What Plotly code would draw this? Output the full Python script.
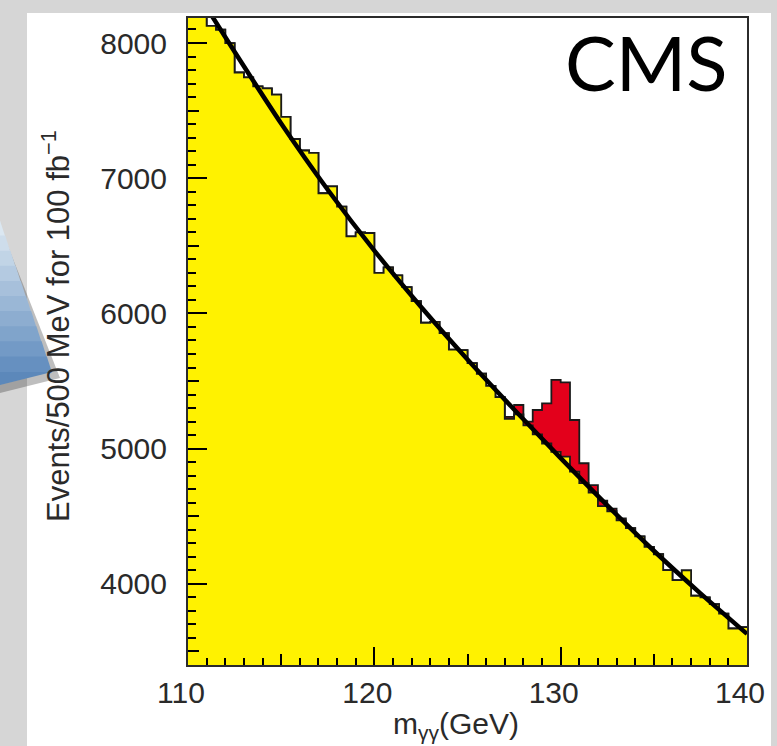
import numpy as np
import plotly.graph_objects as go

# Diphoton invariant-mass spectrum, 500 MeV bins from 110 to 140 GeV
bin_low_edges = [110.0 + 0.5 * i for i in range(60)]

# Expected background per bin (events / 500 MeV for 100 fb^-1)
background = [
    8425, 8306, 8127, 8098, 7999, 7782, 7746, 7680, 7664, 7618,
    7454, 7290, 7205, 7187, 6889, 6940, 6790, 6570, 6600, 6595,
    6300, 6340, 6282, 6194, 6091, 5931, 5938, 5855, 5732, 5729,
    5633, 5554, 5465, 5381, 5220, 5254, 5172, 5105, 5038, 4976,
    4941, 4830, 4745, 4675, 4575, 4537, 4470, 4413, 4351, 4274,
    4219, 4101, 4028, 4100, 3912, 3900, 3850, 3780, 3670, 3680,
]

# Higgs signal contribution stacked on top of the background
signal = [
    0, 0, 0, 0, 0, 0, 0, 0, 0, 0,
    0, 0, 0, 0, 0, 0, 0, 0, 0, 0,
    0, 0, 0, 0, 0, 0, 0, 0, 0, 0,
    0, 0, 0, 0, 15, 69, 28, 181, 297, 532,
    549, 382, 147, 55, 40, 20, 15, 0, 0, 0,
    0, 0, 0, 0, 0, 0, 0, 0, 0, 0,
]

# Smooth background fit
fit_mass = [110.0, 112.5, 115.0, 117.5, 120.0, 122.5, 125.0,
            127.5, 130.0, 132.5, 135.0, 137.5, 140.0]
fit_events = [8480, 7935, 7405, 6915, 6465, 6050, 5660,
              5290, 4930, 4580, 4245, 3930, 3630]

x_ticks = [110, 120, 130, 140]
y_ticks = [4000, 5000, 6000, 7000, 8000]

X_RANGE = [110, 140]
Y_RANGE = [3400, 8185]

W, H = 777, 746
ML, MR, MT, MB = 188, 30, 18, 81
PW, PH = W - ML - MR, H - MT - MB


def px(x):
    return (x - ML) / PW


def py(y):
    return (H - MB - y) / PH


def step_xy(values):
    xs = list(bin_low_edges) + [X_RANGE[1]]
    ys = list(values) + [values[-1]]
    return xs, ys


total = [b + s for b, s in zip(background, signal)]

fig = go.Figure()

tx, ty = step_xy(total)
fig.add_trace(go.Scatter(
    x=tx, y=ty, mode="lines", line=dict(shape="hv", color="#1a1a1a", width=1.8),
    fill="tozeroy", fillcolor="#e3001b", hoverinfo="skip", showlegend=False,
))

bx, by = step_xy(background)
fig.add_trace(go.Scatter(
    x=bx, y=by, mode="lines", line=dict(shape="hv", color="#1a1a1a", width=1.8),
    fill="tozeroy", fillcolor="#fff200", hoverinfo="skip", showlegend=False,
))

fig.add_trace(go.Scatter(
    x=fit_mass, y=fit_events, mode="lines",
    line=dict(color="black", width=4.5, shape="spline", smoothing=0.6),
    hoverinfo="skip", showlegend=False,
))

# carrier trace for the overlay axes holding the half-decade ticks
fig.add_trace(go.Scatter(
    x=[X_RANGE[0]], y=[Y_RANGE[0]], xaxis="x2", yaxis="y2", mode="none",
    hoverinfo="skip", showlegend=False,
))

tick_font = dict(family="Liberation Sans, Arial, sans-serif", size=30, color="#2a2a2a")

fig.update_layout(
    width=W, height=H,
    margin=dict(l=ML, r=MR, t=MT, b=MB),
    paper_bgcolor="#d6d6d6",
    plot_bgcolor="white",
    xaxis=dict(
        range=X_RANGE, tickvals=x_ticks, ticks="inside", ticklen=18, tickwidth=2,
        tickcolor="black", showgrid=False, zeroline=False,
        showline=True, linecolor="#2b2b2b", linewidth=2, mirror=True,
        tickfont=tick_font, ticklabelshift=-7, ticklabelstandoff=0,
        minor=dict(dtick=1, tick0=110, ticks="inside", ticklen=7, tickwidth=1.6,
                   tickcolor="black", showgrid=False),
    ),
    yaxis=dict(
        range=Y_RANGE, tickvals=y_ticks, ticks="inside", ticklen=19, tickwidth=2,
        tickcolor="black", showgrid=False, zeroline=False,
        showline=True, linecolor="#2b2b2b", linewidth=2, mirror=True,
        tickfont=tick_font, ticklabelstandoff=13,
        minor=dict(dtick=100, tick0=0, ticks="inside", ticklen=8, tickwidth=1.6,
                   tickcolor="black", showgrid=False),
    ),
    xaxis2=dict(
        overlaying="x", matches="x", range=X_RANGE, tick0=110, dtick=5,
        ticks="inside", ticklen=11, tickwidth=1.6, tickcolor="black",
        showticklabels=False, showgrid=False, zeroline=False, showline=False,
        anchor="y",
    ),
    yaxis2=dict(
        overlaying="y", matches="y", range=Y_RANGE, tick0=0, dtick=500,
        ticks="inside", ticklen=11, tickwidth=1.6, tickcolor="black",
        showticklabels=False, showgrid=False, zeroline=False, showline=False,
        anchor="x",
    ),
)

shapes = []
# white slide panel behind the plot
shapes.append(dict(
    type="rect", xref="paper", yref="paper",
    x0=px(27), x1=px(771), y0=py(H), y1=py(13),
    fillcolor="white", line=dict(width=0), layer="below",
))


def poly(points):
    return "M " + " L ".join(f"{px(a):.5f},{py(b):.5f}" for a, b in points) + " Z"


# callout wedge on the left edge: soft shadow then a blue gradient in bands
shapes.append(dict(
    type="path", xref="paper", yref="paper",
    path=poly([(0, 226), (60, 378), (0, 393)]),
    fillcolor="rgba(40,40,40,0.30)", line=dict(width=0), layer="above",
))
top_y, bot_y = 221.0, 385.0
edge_top, edge_bot = (0.0, 221.0), (52.0, 372.0)
n_bands = 10
c_top = np.array([226, 236, 244])
c_bot = np.array([96, 140, 190])
for i in range(n_bands):
    y0 = top_y + (edge_bot[1] - top_y) * i / n_bands
    y1 = top_y + (edge_bot[1] - top_y) * (i + 1) / n_bands
    xr0 = edge_top[0] + (edge_bot[0] - edge_top[0]) * (y0 - edge_top[1]) / (edge_bot[1] - edge_top[1])
    xr1 = edge_top[0] + (edge_bot[0] - edge_top[0]) * (y1 - edge_top[1]) / (edge_bot[1] - edge_top[1])
    t = (i + 0.5) / n_bands
    c = (c_top * (1 - t) + c_bot * t).astype(int)
    shapes.append(dict(
        type="path", xref="paper", yref="paper",
        path=poly([(0, y0 - 0.5), (xr0, y0 - 0.5), (xr1, y1 + 0.5), (0, y1 + 0.5)]),
        fillcolor=f"rgb({c[0]},{c[1]},{c[2]})", line=dict(width=0), layer="above",
    ))
shapes.append(dict(
    type="path", xref="paper", yref="paper",
    path=poly([(0, edge_bot[1]), (edge_bot[0], edge_bot[1]), (0, bot_y)]),
    fillcolor="rgb(92,136,186)", line=dict(width=0), layer="above",
))
fig.update_layout(shapes=shapes)

fig.add_annotation(
    text="Events/500 MeV for 100 fb<sup>\u22121</sup>",
    xref="paper", yref="paper", x=px(56), y=py(326),
    xanchor="center", yanchor="middle", textangle=-90, showarrow=False,
    font=dict(family="Liberation Sans, Arial, sans-serif", size=31, color="#2a2a2a"),
)
fig.add_annotation(
    text="m<sub>\u03b3\u03b3</sub>(GeV)",
    xref="paper", yref="paper", x=px(456), y=py(725),
    xanchor="center", yanchor="middle", showarrow=False,
    font=dict(family="Liberation Sans, Arial, sans-serif", size=30, color="#2a2a2a"),
)
fig.add_annotation(
    text="CMS",
    xref="paper", yref="paper", x=px(730), y=py(61),
    xanchor="right", yanchor="middle", showarrow=False,
    font=dict(family="Lato, sans-serif", size=76, color="black"),
)

fig.write_html("out.html")
